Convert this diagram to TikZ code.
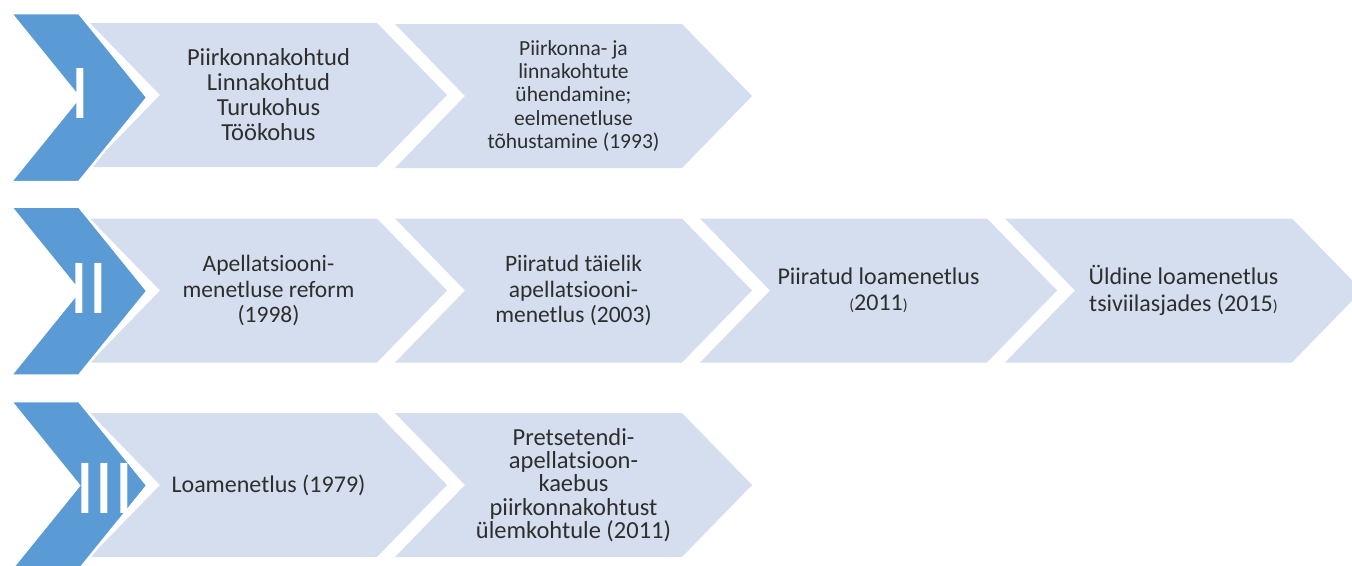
\documentclass[tikz,border=0pt]{standalone}
\usepackage{fontspec}
\setmainfont{Carlito}
\usetikzlibrary{shapes.symbols,positioning}

\definecolor{levelblue}{RGB}{91,155,213}
\definecolor{stageblue}{RGB}{213,222,238}
\newcommand{\smallparen}[1]{{\fontsize{16}{16}\selectfont #1}}

\begin{document}
\begin{tikzpicture}[x=1pt,y=-1pt,
	stage/.style={signal,signal from=west,signal to=east,signal pointer angle=91.6,
		fill=stageblue,minimum width=357pt,minimum height=144pt,inner sep=0pt,
		align=center,text=black!82,font=\fontsize{24}{25}\selectfont},
	level/.style={signal,signal from=west,signal to=east,signal pointer angle=102,
		fill=levelblue,draw=white,line width=2.5pt,minimum width=136pt,minimum height=169pt,inner sep=0pt},
	numeral/.style={anchor=base west,inner sep=0pt,text=white,font=\fontsize{78}{78}\selectfont}]
		\useasboundingbox (0,0) rectangle (1352,565);
		% first row
		\node[stage,font=\fontsize{24.5}{25}\selectfont] (s_11) at (268.5,95) {Piirkonnakohtud\\Linnakohtud\\Turukohus\\Töökohus};
		\node[stage,font=\fontsize{21.5}{23.3}\selectfont] (s_12) at (573.5,96) {Piirkonna- ja\\linnakohtute\\ühendamine;\\eelmenetluse\\tõhustamine (1993)};
		\node[level] (l_1) at (79,97.5) {};
		\node[numeral] (n_1) at (70,118) {I};
		% second row
		\node[stage,font=\fontsize{23.5}{25.5}\selectfont] (s_21) at (268.5,290.5) {Apellatsiooni-\\menetluse reform\\(1998)};
		\node[stage,font=\fontsize{23.5}{25.5}\selectfont] (s_22) at (573.5,290.5) {Piiratud täielik\\apellatsiooni-\\menetlus (2003)};
		\node[stage,font=\fontsize{24}{26.5}\selectfont] (s_23) at (878.5,290.5) {Piiratud loamenetlus\\\smallparen{(}2011\smallparen{)}};
		\node[stage,font=\fontsize{24}{26.5}\selectfont] (s_24) at (1183.5,290.5) {Üldine loamenetlus\\tsiviilasjades (2015\smallparen{)}};
		\node[level] (l_2) at (79,291) {};
		\node[numeral] (n_2) at (69,313) {II};
		% third row
		\node[stage] (s_31) at (268.5,485) {Loamenetlus (1979)};
		\node[stage,font=\fontsize{24.5}{23.3}\selectfont] (s_32) at (573.5,485) {Pretsetendi-\\apellatsioon-\\kaebus\\piirkonnakohtust\\ülemkohtule (2011)};
		\node[level] (l_3) at (79,485.5) {};
		\node[numeral] (n_3) at (75,513) {III};
	\end{tikzpicture}
\end{document}
